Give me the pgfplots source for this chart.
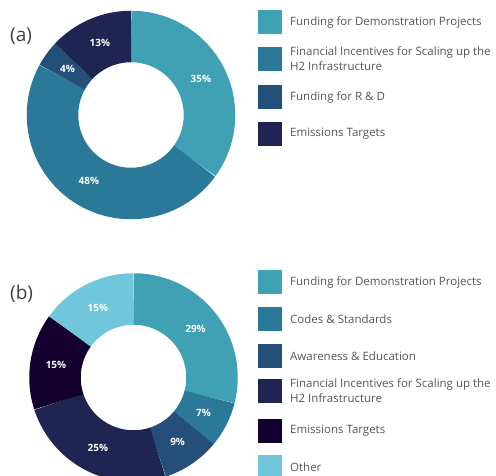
\documentclass[border=0pt]{standalone}
\usepackage{pgfplots}
\pgfplotsset{compat=1.18}
\usepackage{fontspec}
\setmainfont{Open Sans}
\definecolor{cA}{HTML}{40A1B5}
\definecolor{cB}{HTML}{2B7998}
\definecolor{cC}{HTML}{244F79}
\definecolor{cD}{HTML}{1E2552}
\definecolor{cE}{HTML}{13002E}
\definecolor{cF}{HTML}{70C6DA}
\definecolor{txt}{HTML}{555555}
% #1 cx, #2 cy, #3 start (percent), #4 value (percent), #5 colour
\newcommand{\slice}[5]{%
  \addplot[draw=#5, line width=51.5pt, line cap=butt, domain={3.6*#3}:{3.6*(#3+#4)}, samples=80, variable=\t]
    ({#1+78.5*sin(\t)},{#2+78.5*cos(\t)});
  \node[text=white, font=\bfseries\fontsize{10}{10}\selectfont] at (axis cs:{#1+78.5*sin(3.6*(#3+#4/2))},{#2+78.5*cos(3.6*(#3+#4/2))}) {#4\%};
}
\newcommand{\legitem}[3]{% y (pixel from top), colour, text
  \fill[#2] (axis cs:258,{476-#1-12}) rectangle (axis cs:282,{476-#1+12});
  \node[anchor=west, align=left, text=txt, font=\fontsize{11.5}{15}\selectfont, inner sep=0pt] at (axis cs:290,{476-#1}) {#3};
}
\begin{document}
\begin{tikzpicture}
\begin{axis}[
  scale only axis, width=496pt, height=476pt,
  xmin=0, xmax=496, ymin=0, ymax=476,
  axis lines=none, ticks=none,
  clip mode=individual,
]
\coordinate (bl) at (axis cs:0,0);
\coordinate (tr) at (axis cs:496,476);
% (a)
\slice{131}{361}{0}{35}{cA}
\slice{131}{361}{35}{48}{cB}
\slice{131}{361}{83}{4}{cC}
\slice{131}{361}{87}{13}{cD}
% (b)
\slice{133.5}{98.5}{0}{29}{cA}
\slice{133.5}{98.5}{29}{7}{cB}
\slice{133.5}{98.5}{36}{9}{cC}
\slice{133.5}{98.5}{45}{25}{cD}
\slice{133.5}{98.5}{70}{15}{cE}
\slice{133.5}{98.5}{85}{15}{cF}
\node[anchor=west, text=black!75, font=\fontsize{19}{19}\selectfont, inner sep=0pt] at (axis cs:10,{476-36}) {(a)};
\node[anchor=west, text=black!75, font=\fontsize{19}{19}\selectfont, inner sep=0pt] at (axis cs:10,{476-294}) {(b)};
\legitem{22}{cA}{Funding for Demonstration Projects}
\legitem{59}{cB}{Financial Incentives for Scaling up the\\H2 Infrastructure}
\legitem{97}{cC}{Funding for R \& D}
\legitem{134}{cD}{Emissions Targets}
\legitem{282}{cA}{Funding for Demonstration Projects}
\legitem{319}{cB}{Codes \& Standards}
\legitem{356}{cC}{Awareness \& Education}
\legitem{391}{cD}{Financial Incentives for Scaling up the\\H2 Infrastructure}
\legitem{431}{cE}{Emissions Targets}
\legitem{467}{cF}{Other}
\end{axis}
\pgfresetboundingbox
\useasboundingbox (bl) rectangle (tr);
\end{tikzpicture}
\end{document}
